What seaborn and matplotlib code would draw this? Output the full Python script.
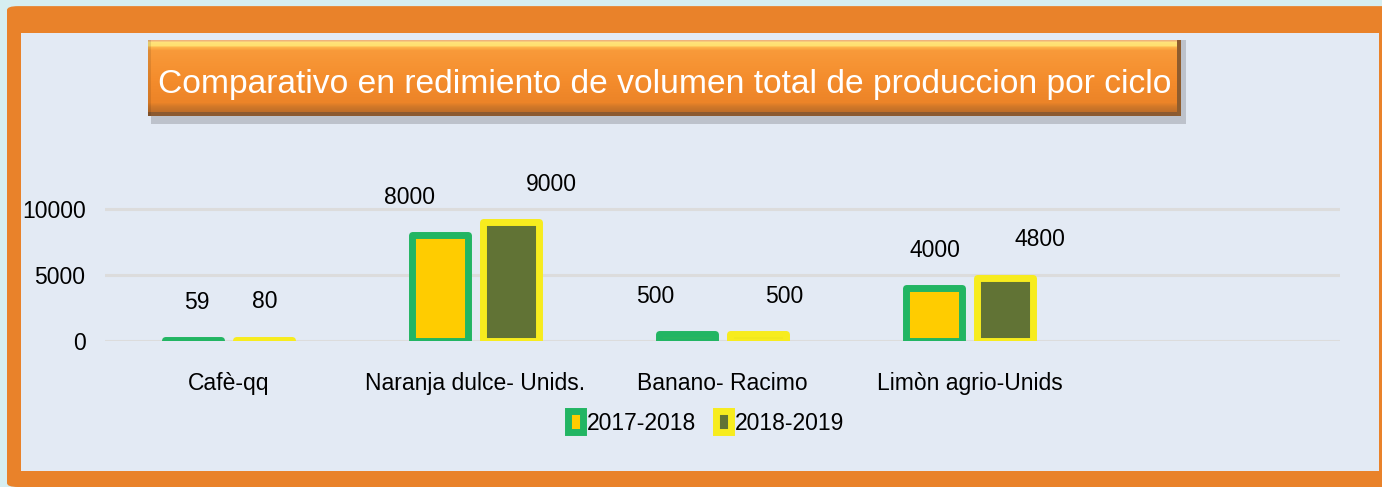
import numpy as np
import pandas as pd
import matplotlib
matplotlib.use("Agg")
import matplotlib.pyplot as plt
import seaborn as sns
from matplotlib.patches import FancyBboxPatch, Rectangle, Patch
from matplotlib.colors import to_rgb

# data
categories = ["Cafè-qq", "Naranja dulce- Unids.", "Banano- Racimo", "Limòn agrio-Unids"]
cycles = ["2017-2018", "2018-2019"]
v2017 = [59, 8000, 500, 4000]
v2018 = [80, 9000, 500, 4800]
yticks = [0, 5000, 10000]
title = "Comparativo en redimiento de volumen total de produccion por ciclo"

# style
fill_colors = ["#FFCC00", "#617335"]
edge_colors = ["#22B563", "#F7EC1E"]
label_dx = [[4, -30, -32, 1], [1, 40, 26, 35]]  # px shifts of value labels
W, H = 1382, 487
fs = 16.5

df = pd.DataFrame({
    "categoria": categories * 2,
    "ciclo": [cycles[0]] * 4 + [cycles[1]] * 4,
    "valor": v2017 + v2018,
})

sns.set_style("white")
plt.rcParams["font.family"] = ["Liberation Sans", "DejaVu Sans"]

fig = plt.figure(figsize=(W / 100, H / 100), dpi=100, facecolor="#D6EEF1")

def fx(px):
    return px / W

def fy(px):
    return 1 - px / H

# orange frame + inner panel
fig.patches.append(FancyBboxPatch((fx(7), fy(487)), fx(1382 - 7) + 0.01, (487 - 11) / H + 0.01,
                                  boxstyle="round,pad=0,rounding_size=0.008",
                                  transform=fig.transFigure, facecolor="#E9822A", edgecolor="none", zorder=-3))
fig.patches.append(Rectangle((fx(21), fy(471)), fx(1379 - 21), (471 - 33) / H,
                             transform=fig.transFigure, facecolor="#E3EAF4", edgecolor="none", zorder=-2))

# title box shadow
fig.patches.append(Rectangle((fx(151), fy(124)), fx(1186 - 151), 84 / H,
                             transform=fig.transFigure, facecolor="#9EA2AA", alpha=0.55,
                             edgecolor="none", zorder=-1))

# title box with gradient
tax = fig.add_axes([fx(148), fy(116), fx(1181 - 148), 76 / H])
stops = [(0, "#EFB37A"), (2, "#FFE27A"), (5, "#FFE070"), (7, "#FDB24A"), (10, "#F89A3A"),
         (40, "#F48C2C"), (62, "#EC8428"), (66, "#D27828"), (71, "#C06E28"), (72, "#8C5A30"),
         (76, "#8C5A30")]
rows = np.arange(76)
sp = [s[0] for s in stops]
cols = np.array([to_rgb(s[1]) for s in stops])
grad = np.stack([np.interp(rows, sp, cols[:, k]) for k in range(3)], axis=-1)
img = np.repeat(grad[:, None, :], 1033, axis=1)
img[:, -4:, :] = to_rgb("#8E5C2E")
img[:, :3, :] = img[:, :3, :] * 0.9
tax.imshow(img, aspect="auto", extent=(0, 1, 0, 1))
tax.set_xlim(0, 1)
tax.set_ylim(0, 1)
tax.axis("off")
tax.text(0.5, (116 - 93) / 76, title, ha="center", va="baseline", color="white", fontsize=24.2)

# main axes
ax = fig.add_axes([fx(105), fy(341), fx(1340 - 105), (341 - 143) / H])
ax.patch.set_alpha(0)
sns.barplot(data=df, x="categoria", y="valor", hue="ciclo", palette=fill_colors, saturation=1,
            width=0.575, gap=0.2, ax=ax, legend=False)

for i, cont in enumerate(ax.containers):
    for j, bar in enumerate(cont):
        bar.set_edgecolor(edge_colors[i])
        bar.set_linewidth(5)
        bar.set_joinstyle("round")
        val = bar.get_height()
        ax.annotate(f"{val:.0f}", (bar.get_x() + bar.get_width() / 2, val),
                    xytext=(label_dx[i][j], 38), textcoords="offset pixels",
                    ha="center", va="center", fontsize=fs, color="black", annotation_clip=False)

ax.set_xlim(-0.5, 4.5)
ax.set_ylim(0, 15000)
ax.set_yticks(yticks)
ax.set_yticklabels([str(t) for t in yticks])
ax.yaxis.grid(True, color="#DCDCDC", linewidth=2.2)
ax.set_axisbelow(True)
ax.set_xlabel("")
ax.set_ylabel("")
sns.despine(ax=ax, left=True, bottom=True)
ax.tick_params(axis="y", length=0, pad=14, labelsize=fs, labelcolor="black")
ax.tick_params(axis="x", length=0, pad=22, labelsize=fs, labelcolor="black")

handles = [Patch(facecolor=fill_colors[k], edgecolor=edge_colors[k], linewidth=5, joinstyle="round")
           for k in range(2)]
leg = fig.legend(handles, cycles, loc="center", bbox_to_anchor=(fx(706), fy(423)), ncol=2, frameon=False,
                 fontsize=fs, handlelength=0.65, handleheight=1.0, handletextpad=0.15, columnspacing=0.9)
for t in leg.get_texts():
    t.set_color("black")

fig.savefig("out.png", dpi=100, facecolor=fig.get_facecolor())
